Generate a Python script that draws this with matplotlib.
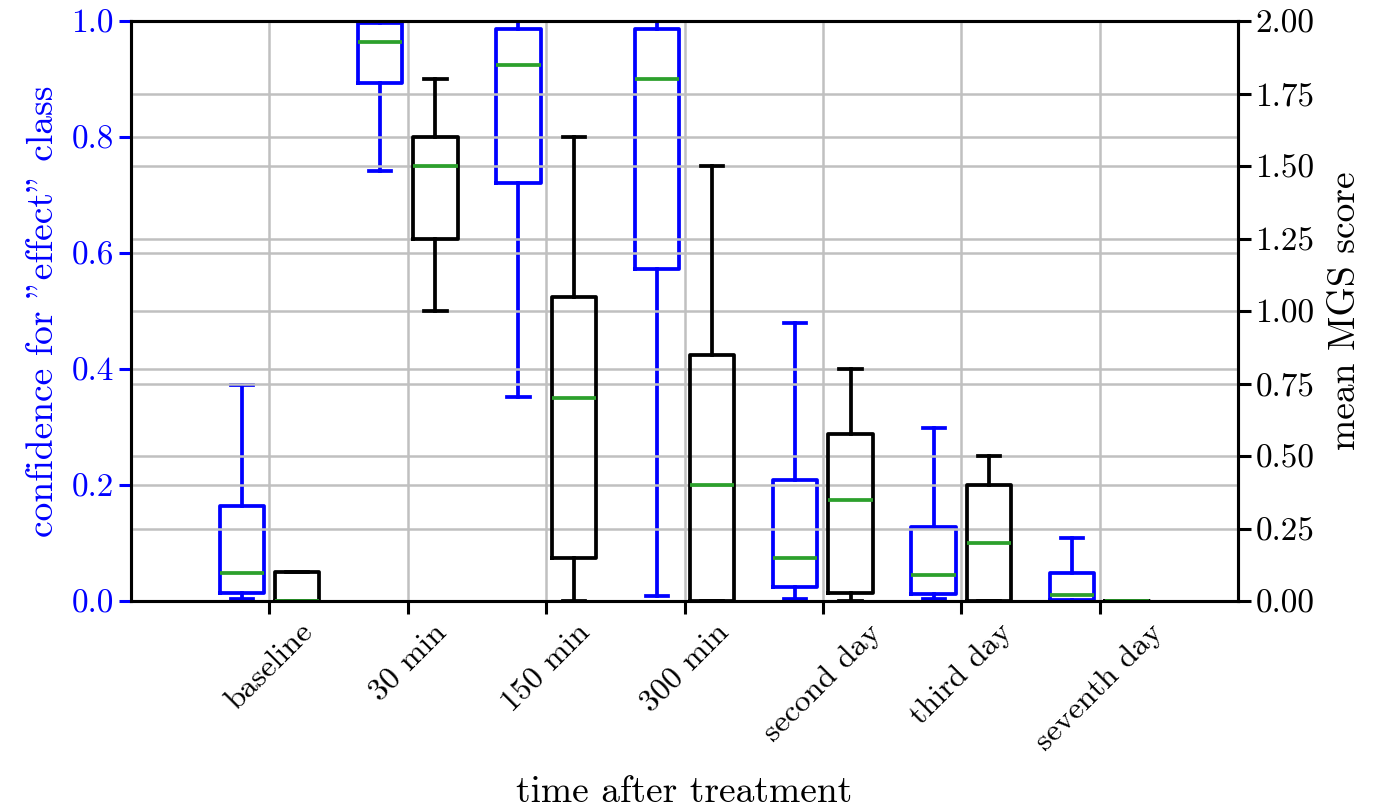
import numpy as np
import matplotlib
matplotlib.use("Agg")
import matplotlib.pyplot as plt
from matplotlib.ticker import FormatStrFormatter

plt.rcParams['font.family'] = 'cmr10'
plt.rcParams['mathtext.fontset'] = 'cm'
plt.rcParams['axes.formatter.use_mathtext'] = True
plt.rcParams['font.size'] = 27

labels = ['baseline', '30 min', '150 min', '300 min', 'second day', 'third day', 'seventh day']

# confidence for "effect" class (left axis)
conf_whislo = [0.004, 0.742, 0.351, 0.009, 0.003, 0.003, 0.0]
conf_q1 = [0.014, 0.893, 0.721, 0.572, 0.025, 0.012, 0.002]
conf_med = [0.048, 0.964, 0.924, 0.900, 0.074, 0.045, 0.011]
conf_q3 = [0.163, 0.997, 0.986, 0.986, 0.209, 0.128, 0.048]
conf_whishi = [0.372, 1.0, 1.0, 1.0, 0.480, 0.299, 0.109]

# mean MGS score (right axis)
mgs_whislo = [0.0, 1.00, 0.0, 0.0, 0.0, 0.0, 0.0]
mgs_q1 = [0.0, 1.25, 0.15, 0.0, 0.027, 0.0, 0.0]
mgs_med = [0.0, 1.50, 0.70, 0.40, 0.35, 0.20, 0.0]
mgs_q3 = [0.10, 1.60, 1.05, 0.85, 0.575, 0.40, 0.0]
mgs_whishi = [0.10, 1.80, 1.60, 1.50, 0.80, 0.50, 0.0]


def make_stats(lo, q1, med, q3, hi):
    stats = []
    for i in range(len(lo)):
        stats.append({'whislo': lo[i], 'q1': q1[i], 'med': med[i],
                      'q3': q3[i], 'whishi': hi[i], 'fliers': []})
    return stats


pos = np.arange(1, len(labels) + 1)
lw = 2.7

fig = plt.figure(figsize=(13.82, 8.09), dpi=100)
ax = fig.add_axes([0.0948, 0.2571, 0.8010, 0.7169])
ax2 = ax.twinx()

blue = '#0000ff'
green = '#2ca02c'
ax.bxp(make_stats(conf_whislo, conf_q1, conf_med, conf_q3, conf_whishi),
       positions=pos - 0.2, widths=0.32, showfliers=False, manage_ticks=False,
       boxprops=dict(color=blue, linewidth=lw),
       whiskerprops=dict(color=blue, linewidth=lw),
       capprops=dict(color=blue, linewidth=lw),
       medianprops=dict(color=green, linewidth=lw))
ax2.bxp(make_stats(mgs_whislo, mgs_q1, mgs_med, mgs_q3, mgs_whishi),
        positions=pos + 0.2, widths=0.32, showfliers=False, manage_ticks=False,
        boxprops=dict(color='k', linewidth=lw),
        whiskerprops=dict(color='k', linewidth=lw),
        capprops=dict(color='k', linewidth=lw),
        medianprops=dict(color=green, linewidth=lw))

ax.set_xlim(0, 8)
ax.set_ylim(0, 1)
ax2.set_ylim(0, 2)
ax.set_xticks(pos)
ax.set_xticklabels(labels, rotation=45, ha='center', fontsize=23)
ax.set_yticks(np.arange(0, 1.01, 0.2))
ax2.set_yticks(np.arange(0, 2.01, 0.25))
ax.yaxis.set_major_formatter(FormatStrFormatter('%.1f'))
ax2.yaxis.set_major_formatter(FormatStrFormatter('%.2f'))

gridc = '#c0c0c0'
ax.set_axisbelow(False)
ax.grid(True, color=gridc, linewidth=1.8)
ax2.grid(True, axis='y', color=gridc, linewidth=1.8)
ax2.set_axisbelow(True)

for a in (ax, ax2):
    for s in a.spines.values():
        s.set_linewidth(2.2)
ax.tick_params(axis='both', length=9, width=2.2)
ax.tick_params(axis='y', colors=blue, labelsize=24)
ax2.tick_params(axis='y', length=9, width=2.2, labelsize=24)

ax.set_ylabel('confidence for "effect" class', color=blue, labelpad=8)
ax2.set_ylabel('mean MGS score', labelpad=10)
ax.set_xlabel('time after treatment', labelpad=14)

fig.savefig('out.png', dpi=100)
